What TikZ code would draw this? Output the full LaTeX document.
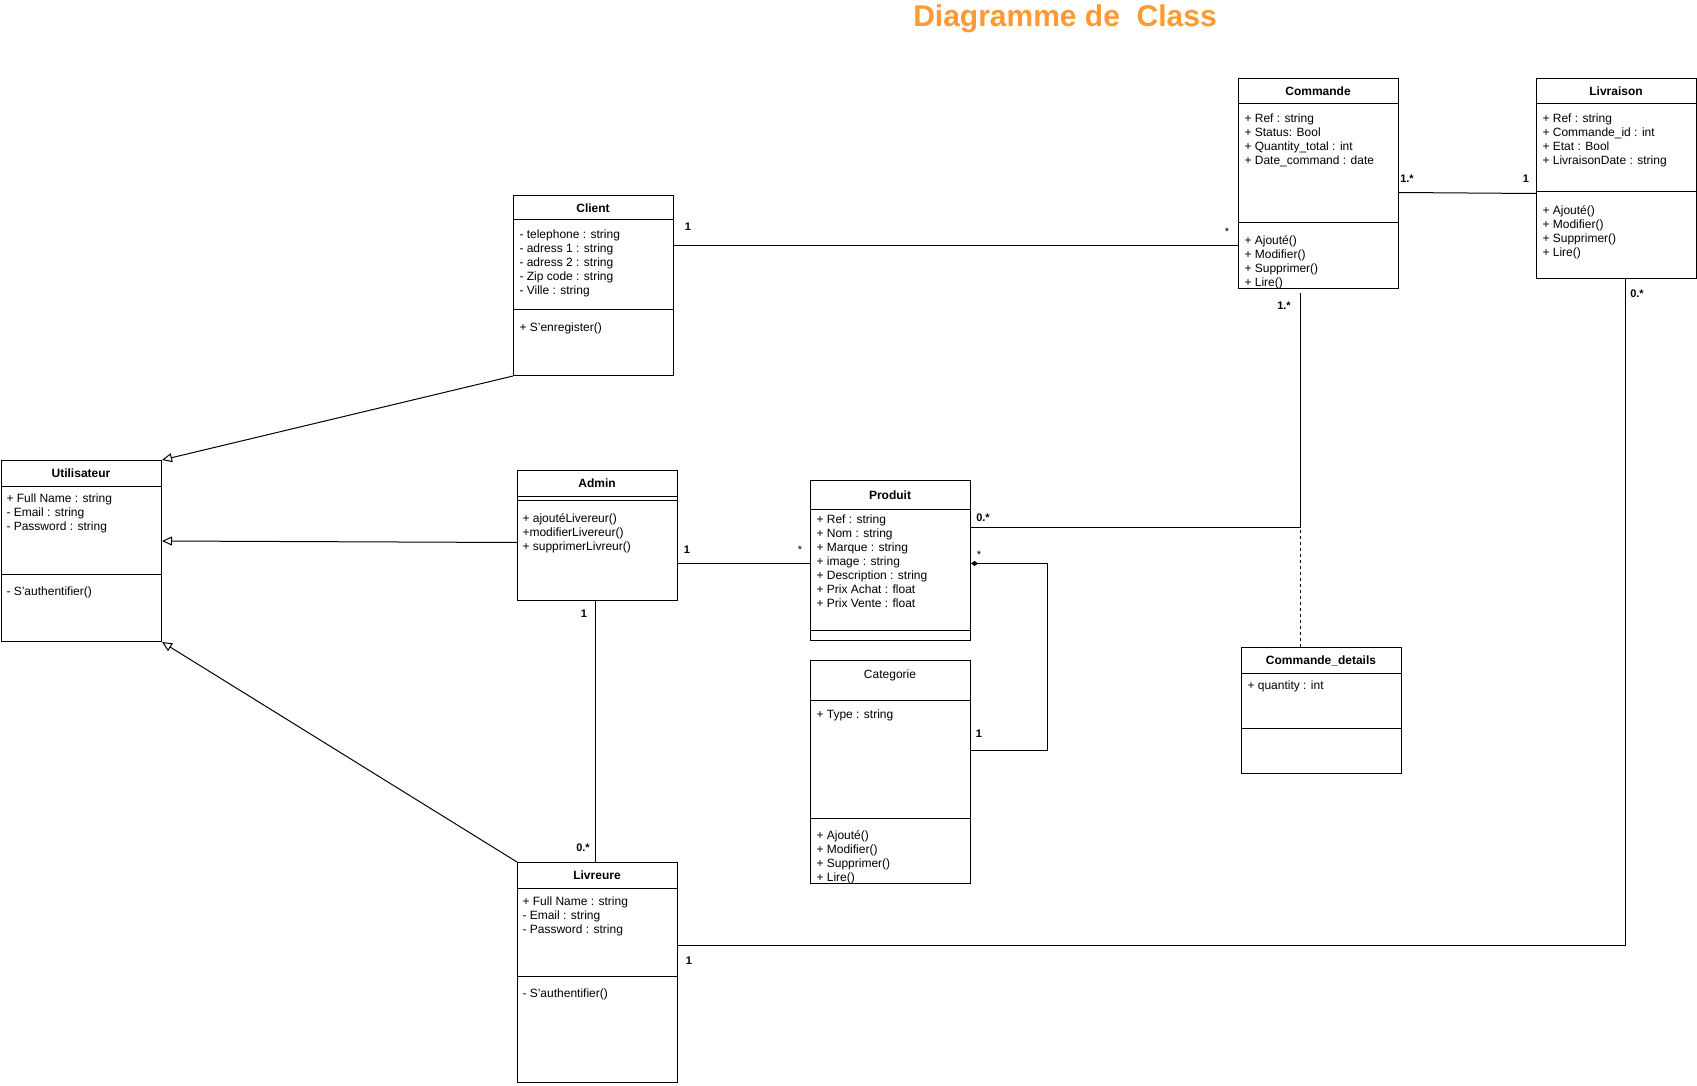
\documentclass[tikz,border=0pt]{standalone}
\usepackage{fontspec}
\setmainfont{Liberation Sans}
\usetikzlibrary{arrows.meta}
\definecolor{titleorange}{RGB}{255,153,51}
\begin{document}
\begin{tikzpicture}[x=1pt,y=-1pt,line width=1pt,
    cls/.style={draw,anchor=north west,inner sep=0pt},
    ttl/.style={anchor=base,font=\fontsize{12}{14}\selectfont\bfseries},
    txt/.style={anchor=base west,align=left,inner sep=0pt,font=\fontsize{12}{14}\selectfont},
    mult/.style={inner sep=0pt,font=\fontsize{11}{13}\selectfont\bfseries},
    gen/.style={-{Triangle[open,length=10pt,width=9pt]}}]
    \useasboundingbox (0,0) rectangle (1697,1086);
    \node[anchor=base,text=titleorange,font=\fontsize{30}{36}\selectfont\bfseries] (title) at (1065,27) {Diagramme de\ \ Class};

    % Utilisateur (txt nodes sit on the baseline of their last line)
    \node[cls,minimum width=160pt,minimum height=181pt] (util) at (1,460) {};
    \node[ttl] (util-t) at (81,477.5) {Utilisateur};
    \draw (1,486) -- (161,486) (1,574) -- (161,574);
    \node[txt] (util-a) at (6,530) {+ Full Name : string\\- Email : string\\- Password : string};
    \node[txt] (util-m) at (6,595) {- S'authentifier()};

    % Client
    \node[cls,minimum width=160pt,minimum height=180pt] (client) at (513,195) {};
    \node[ttl] (client-t) at (593,212) {Client};
    \draw (513,220) -- (673,220) (513,309) -- (673,309);
    \node[txt] (client-a) at (519,294) {- telephone : string\\- adress 1 : string\\- adress 2 : string\\- Zip code : string\\- Ville : string};
    \node[txt] (client-m) at (519,331) {+ S'enregister()};

    % Commande
    \node[cls,minimum width=160pt,minimum height=210pt] (commande) at (1238,78) {};
    \node[ttl] (commande-t) at (1318,95.5) {Commande};
    \draw (1238,104) -- (1398,104) (1238,223) -- (1398,223);
    \node[txt] (commande-a) at (1244,164.5) {+ Ref : string\\+ Status: Bool\\+ Quantity\_total : int\\+ Date\_command : date};
    \node[txt] (commande-m) at (1244,286) {+ Ajouté()\\+ Modifier()\\+ Supprimer()\\+ Lire()};

    % Livraison
    \node[cls,minimum width=160pt,minimum height=200pt] (livraison) at (1536,78) {};
    \node[ttl] (livraison-t) at (1616,95.5) {Livraison};
    \draw (1536,104) -- (1696,104) (1536,192) -- (1696,192);
    \node[txt] (livraison-a) at (1542,164.5) {+ Ref : string\\+ Commande\_id : int\\+ Etat : Bool\\+ LivraisonDate : string};
    \node[txt] (livraison-m) at (1542,256) {+ Ajouté()\\+ Modifier()\\+ Supprimer()\\+ Lire()};

    % Admin
    \node[cls,minimum width=160pt,minimum height=130pt] (admin) at (517,470) {};
    \node[ttl] (admin-t) at (597,487.5) {Admin};
    \draw (517,496) -- (677,496) (517,500) -- (677,500);
    \node[txt] (admin-m) at (522,550.5) {+ ajoutéLivereur()\\+modifierLivereur()\\+ supprimerLivreur()};

    % Produit
    \node[cls,minimum width=160pt,minimum height=160pt] (produit) at (810,480) {};
    \node[ttl] (produit-t) at (890,499) {Produit};
    \draw (810,509) -- (970,509) (810,630) -- (970,630);
    \node[txt] (produit-a) at (816,607) {+ Ref : string\\+ Nom : string\\+ Marque : string\\+ image : string\\+ Description : string\\+ Prix Achat : float\\+ Prix Vente : float};

    % Categorie
    \node[cls,minimum width=160pt,minimum height=223pt] (categorie) at (810,660) {};
    \node[ttl,font=\fontsize{12}{14}\selectfont] (categorie-t) at (890,678.5) {Categorie};
    \draw (810,700) -- (970,700) (810,818) -- (970,818);
    \node[txt] (categorie-a) at (816,718.5) {+ Type : string};
    \node[txt] (categorie-m) at (816,881) {+ Ajouté()\\+ Modifier()\\+ Supprimer()\\+ Lire()};

    % Commande_details
    \node[cls,minimum width=160pt,minimum height=126pt] (cdet) at (1241,647) {};
    \node[ttl] (cdet-t) at (1321,664.5) {Commande\_details};
    \draw (1241,673) -- (1401,673) (1241,728) -- (1401,728);
    \node[txt] (cdet-a) at (1247,689) {+ quantity : int};

    % Livreure
    \node[cls,minimum width=160pt,minimum height=220pt] (livreure) at (517,862) {};
    \node[ttl] (livreure-t) at (597,879.5) {Livreure};
    \draw (517,888) -- (677,888) (517,976) -- (677,976);
    \node[txt] (livreure-a) at (522,933) {+ Full Name : string\\- Email : string\\- Password : string};
    \node[txt] (livreure-m) at (522,997.5) {- S'authentifier()};

    % heritage
    \draw[gen] (client.south west) -- (util.north east);
    \draw[gen] ([yshift=-7pt]admin.west) -- ([yshift=10pt]util.east);
    \draw[gen] (livreure.north west) -- (util.south east);

    % associations
    \draw ([yshift=40pt]client.east) -- ([yshift=-62pt]commande.west);
    \draw ([yshift=-9pt]commande.east) -- ([yshift=-15pt]livraison.west);
    \coordinate (cp) at (1300,527);
    \draw[shorten <=4pt] (commande.south -| cp) -- (cp) -- (cp -| produit.east);
    \draw[dash pattern=on 3pt off 3pt] (cdet.north -| cp) -- (cp);
    \draw ([yshift=-28pt]admin.east) -- ([yshift=-3pt]produit.west);
    \draw[{Diamond[length=7pt,width=5pt]}-] ([yshift=-3pt]produit.east) -- ++(76,0) |- ([yshift=21.5pt]categorie.east);
    \draw ([xshift=-2pt]admin.south) -- ([xshift=-2pt]livreure.north);
    \draw ([yshift=27pt]livreure.east) -| ([xshift=9pt]livraison.south);

    % multiplicites
    \node[mult] (m1) at (688,227) {1};
    \node[mult,font=\fontsize{11}{13}\selectfont] (m2) at (1227,232) {*};
    \node[mult] (m3) at (1407,179) {1.*};
    \node[mult] (m4) at (1526,179) {1};
    \node[mult] (m5) at (1284,306) {1.*};
    \node[mult] (m6) at (983,518) {0.*};
    \node[mult] (m7) at (687,550) {1};
    \node[mult,font=\fontsize{11}{13}\selectfont] (m8) at (800,550) {*};
    \node[mult,font=\fontsize{11}{13}\selectfont] (m9) at (979,555) {*};
    \node[mult] (m10) at (979,734) {1};
    \node[mult] (m11) at (584,614) {1};
    \node[mult] (m12) at (583,848) {0.*};
    \node[mult] (m13) at (689,961) {1};
    \node[mult] (m14) at (1637,294) {0.*};
\end{tikzpicture}
\end{document}
